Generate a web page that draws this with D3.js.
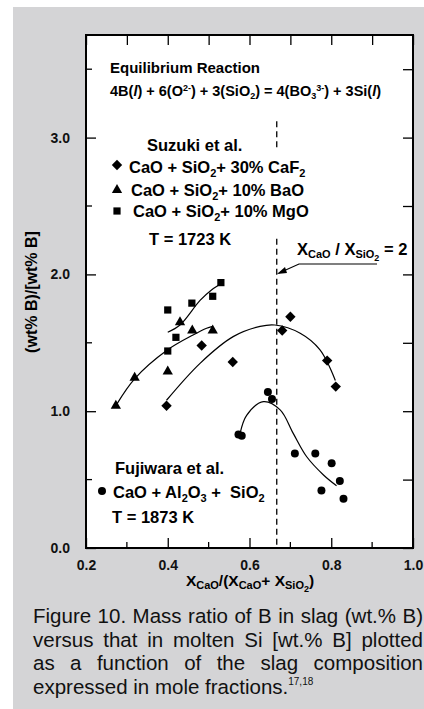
<!DOCTYPE html>
<html>
<head>
<meta charset="utf-8">
<script src="https://cdn.jsdelivr.net/npm/d3@7"></script>
<style>
  body { margin: 0; background: #fff; }
  svg { display: block; }
  text { font-family: "Liberation Sans", Arial, Helvetica, sans-serif; }
</style>
</head>
<body>
<svg id="canvas" width="424" height="709"></svg>
<script>
// ---- data ----
let caf2Points = [[0.397, 1.04], [0.483, 1.48], [0.559, 1.36], [0.680, 1.59], [0.700, 1.69], [0.790, 1.37], [0.811, 1.18]];
let baoPoints = [[0.273, 1.04], [0.319, 1.245], [0.400, 1.29], [0.430, 1.65], [0.460, 1.59], [0.510, 1.59]];
let mgoPoints = [[0.400, 1.44], [0.400, 1.74], [0.420, 1.54], [0.459, 1.79], [0.510, 1.84], [0.530, 1.94]];
let fujiwaraPoints = [[0.573, 0.83], [0.581, 0.82], [0.645, 1.14], [0.655, 1.09], [0.711, 0.69], [0.761, 0.69],
                      [0.801, 0.62], [0.821, 0.49], [0.776, 0.42], [0.830, 0.36]];

// hand-drawn trend lines
let caf2Curve = [[0.397, 1.08], [0.479, 1.35], [0.560, 1.545], [0.626, 1.62], [0.662, 1.63], [0.724, 1.57], [0.772, 1.45], [0.810, 1.225]];
let baoCurve = [[0.275, 1.05], [0.320, 1.24], [0.399, 1.447], [0.462, 1.557], [0.495, 1.606], [0.510, 1.62]];
let mgoCurve = [[0.400, 1.577], [0.430, 1.63], [0.479, 1.81], [0.507, 1.886], [0.532, 1.935]];
let fujiwaraCurve = [[0.577, 0.838], [0.593, 0.97], [0.634, 1.07], [0.675, 1.01], [0.707, 0.838], [0.740, 0.667], [0.781, 0.534], [0.813, 0.455]];

let xTicks = [0.2, 0.4, 0.6, 0.8, 1.0];
let xMinorTicks = [0.3, 0.5, 0.7, 0.9];
let yTicks = [0.0, 1.0, 2.0, 3.0];
let yMinorTicks = [0.5, 1.5, 2.5, 3.5];
let ratioLine = 2 / 3;

let captionLines = [
  "Figure 10. Mass ratio of B in slag (wt.% B)",
  "versus that in molten Si [wt.% B] plotted",
  "as a function of the slag composition",
  "expressed in mole fractions."
];

// ---- layout ----
let svg = d3.select('#canvas');
let plotLeft = 86, plotRight = 413, plotTop = 35, plotBottom = 548;

svg.append('rect').attr('x', 13).attr('y', 7).attr('width', 411).attr('height', 702).attr('fill', '#d4d4d6');
svg.append('rect').attr('x', plotLeft).attr('y', plotTop).attr('width', plotRight - plotLeft).attr('height', plotBottom - plotTop).attr('fill', '#fff');

let x = d3.scaleLinear().domain([0.2, 1.0]).range([plotLeft, plotRight]);
let y = d3.scaleLinear().domain([0, 3.75]).range([plotBottom, plotTop]);

let fmt = d3.format('.1f');

// axes with inward ticks
let g = svg.append('g');
let bottomAxis = g.append('g').attr('transform', `translate(0,${plotBottom})`)
  .call(d3.axisBottom(x).tickValues(xTicks).tickFormat(fmt).tickSizeInner(-10).tickSizeOuter(0).tickPadding(12));
bottomAxis.append('g').selectAll('line').data(xMinorTicks).enter().append('line')
  .attr('x1', d => x(d)).attr('x2', d => x(d)).attr('y1', 0).attr('y2', -6).attr('stroke', '#000').attr('stroke-width', 1.3);

let leftAxis = g.append('g').attr('transform', `translate(${plotLeft},0)`)
  .call(d3.axisLeft(y).tickValues(yTicks).tickFormat(fmt).tickSizeInner(-10).tickSizeOuter(0).tickPadding(16));
leftAxis.append('g').selectAll('line').data(yMinorTicks).enter().append('line')
  .attr('y1', d => y(d)).attr('y2', d => y(d)).attr('x1', 0).attr('x2', 6).attr('stroke', '#000').attr('stroke-width', 1.3);

g.append('g').attr('transform', `translate(0,${plotTop})`)
  .call(d3.axisTop(x).tickValues(xTicks.concat(xMinorTicks)).tickFormat('').tickSizeInner(-10).tickSizeOuter(0));
g.append('g').attr('transform', `translate(${plotRight},0)`)
  .call(d3.axisRight(y).tickValues(yTicks.concat(yMinorTicks)).tickFormat('').tickSizeInner(-10).tickSizeOuter(0));

g.selectAll('.domain').remove();
g.selectAll('.tick line').attr('stroke', '#000').attr('stroke-width', 1.3);
g.selectAll('.tick text').attr('font-size', 14).attr('font-weight', 'bold').attr('fill', '#111')
  .attr('font-family', '"Liberation Sans", Arial, sans-serif');

svg.append('rect').attr('x', plotLeft).attr('y', plotTop).attr('width', plotRight - plotLeft).attr('height', plotBottom - plotTop)
  .attr('fill', 'none').attr('stroke', '#000').attr('stroke-width', 2);

// axis titles
svg.append('text').attr('transform', 'translate(37,292) rotate(-90)').attr('text-anchor', 'middle')
  .attr('font-size', 16).attr('font-weight', 'bold').text('(wt% B)/[wt% B]');

let xl = svg.append('text').attr('x', 250).attr('y', 586).attr('text-anchor', 'middle')
  .attr('font-size', 15.5).attr('font-weight', 'bold');
xl.append('tspan').text('X');
xl.append('tspan').attr('font-size', 11).attr('dy', 3).text('CaO');
xl.append('tspan').attr('dy', -3).text('/(X');
xl.append('tspan').attr('font-size', 11).attr('dy', 3).text('CaO');
xl.append('tspan').attr('dy', -3).text('+ X');
xl.append('tspan').attr('font-size', 11).attr('dy', 3).text('SiO');
xl.append('tspan').attr('font-size', 9).attr('dy', 3).text('2');
xl.append('tspan').attr('dy', -6).text(')');

// dashed X_CaO/X_SiO2 = 2 line
svg.append('line').attr('x1', x(ratioLine)).attr('x2', x(ratioLine)).attr('y1', y(3.12)).attr('y2', y(2.92))
  .attr('stroke', '#000').attr('stroke-width', 1.3).attr('stroke-dasharray', '6,4');
svg.append('line').attr('x1', x(ratioLine)).attr('x2', x(ratioLine)).attr('y1', y(2.26)).attr('y2', y(0))
  .attr('stroke', '#000').attr('stroke-width', 1.3).attr('stroke-dasharray', '6,4');

// trend curves
let line = d3.line().x(d => x(d[0])).y(d => y(d[1])).curve(d3.curveCatmullRom.alpha(0.5));
[caf2Curve, baoCurve, mgoCurve, fujiwaraCurve].forEach(c => {
  svg.append('path').attr('d', line(c)).attr('fill', 'none').attr('stroke', '#000').attr('stroke-width', 1.2);
});

// markers
let sym = (type, size) => d3.symbol().type(type).size(size);
let diamond = 'M0,-5.2L5.2,0L0,5.2L-5.2,0Z';
let drawPoints = (data, d) => {
  svg.append('g').selectAll('path').data(data).enter().append('path')
    .attr('transform', p => `translate(${x(p[0])},${y(p[1])})`)
    .attr('d', d).attr('fill', '#000');
};
drawPoints(caf2Points, diamond);
drawPoints(baoPoints, sym(d3.symbolTriangle, 46)());
drawPoints(mgoPoints, sym(d3.symbolSquare, 52)());
drawPoints(fujiwaraPoints, sym(d3.symbolCircle, 50)());

// text annotations
let bold = (tx, ty, size) => svg.append('text').attr('x', tx).attr('y', ty).attr('font-size', size).attr('font-weight', 'bold');

bold(110, 73, 15).text('Equilibrium Reaction');
let eq = bold(110, 96, 14.5);
eq.append('tspan').text('4B(');
eq.append('tspan').attr('font-style', 'italic').text('l');
eq.append('tspan').text(') + 6(O');
eq.append('tspan').attr('font-size', 9).attr('dy', -5).text('2-');
eq.append('tspan').attr('dy', 5).text(') + 3(SiO');
eq.append('tspan').attr('font-size', 9).attr('dy', 3).text('2');
eq.append('tspan').attr('dy', -3).text(') = 4(BO');
eq.append('tspan').attr('font-size', 9).attr('dy', 3).text('3');
eq.append('tspan').attr('font-size', 9).attr('dy', -8).text('3-');
eq.append('tspan').attr('dy', 5).text(') + 3Si(');
eq.append('tspan').attr('font-style', 'italic').text('l');
eq.append('tspan').text(')');

bold(147, 151, 16.5).text('Suzuki et al.');

let legendRows = [
  { mark: diamond, mx: 117, my: 165, tx: 129, ty: 173, pre: 'CaO + SiO', post: '+ 30% CaF', sub2: '2' },
  { mark: sym(d3.symbolTriangle, 46)(), mx: 117, my: 190, tx: 131, ty: 196, pre: 'CaO + SiO', post: '+ 10% BaO', sub2: '' },
  { mark: sym(d3.symbolSquare, 52)(), mx: 117, my: 211, tx: 133, ty: 217, pre: 'CaO + SiO', post: '+ 10% MgO', sub2: '' }
];
legendRows.forEach(r => {
  svg.append('path').attr('transform', `translate(${r.mx},${r.my})`).attr('d', r.mark).attr('fill', '#000');
  let t = bold(r.tx, r.ty, 16.5);
  t.append('tspan').text(r.pre);
  t.append('tspan').attr('font-size', 11).attr('dy', 4).text('2');
  t.append('tspan').attr('dy', -4).text(r.post);
  if (r.sub2) t.append('tspan').attr('font-size', 11).attr('dy', 4).text(r.sub2);
});

bold(149, 245, 16.5).text('T = 1723 K');

let rt = bold(297, 255, 16.5);
rt.append('tspan').text('X');
rt.append('tspan').attr('font-size', 11).attr('dy', 3).text('CaO');
rt.append('tspan').attr('dy', -3).text(' / X');
rt.append('tspan').attr('font-size', 11).attr('dy', 3).text('SiO');
rt.append('tspan').attr('font-size', 9).attr('dy', 3).text('2');
rt.append('tspan').attr('dy', -6).text(' = 2');

// arrow
svg.append('path').attr('d', 'M377,264L299,264L279,273').attr('fill', 'none').attr('stroke', '#000').attr('stroke-width', 1.2);
svg.append('path').attr('d', 'M277,274L285,267L287,273Z').attr('fill', '#000');

bold(115, 474, 16.5).text('Fujiwara et al.');
svg.append('path').attr('transform', 'translate(102,491)').attr('d', sym(d3.symbolCircle, 50)()).attr('fill', '#000');
let ft = bold(113, 498, 16.5);
ft.append('tspan').text('CaO + Al');
ft.append('tspan').attr('font-size', 11).attr('dy', 4).text('2');
ft.append('tspan').attr('dy', -4).text('O');
ft.append('tspan').attr('font-size', 11).attr('dy', 4).text('3');
ft.append('tspan').attr('dy', -4).attr('xml:space', 'preserve').text(' +  SiO');
ft.append('tspan').attr('font-size', 11).attr('dy', 4).text('2');
bold(112, 523, 16.5).text('T = 1873 K');

// caption, justified
let capLeft = 33, capRight = 423;
captionLines.forEach((s, i) => {
  let t = svg.append('text').attr('x', capLeft).attr('y', 623 + i * 23.6).attr('font-size', 20.5).attr('fill', '#111');
  t.append('tspan').text(s);
  if (i < 3) {
    let w = t.node().getComputedTextLength();
    let gaps = s.split(' ').length - 1;
    t.attr('word-spacing', (capRight - capLeft - w) / gaps);
  } else {
    t.append('tspan').attr('font-size', 10).attr('dy', -9).text('17,18');
  }
});
</script>
</body>
</html>
